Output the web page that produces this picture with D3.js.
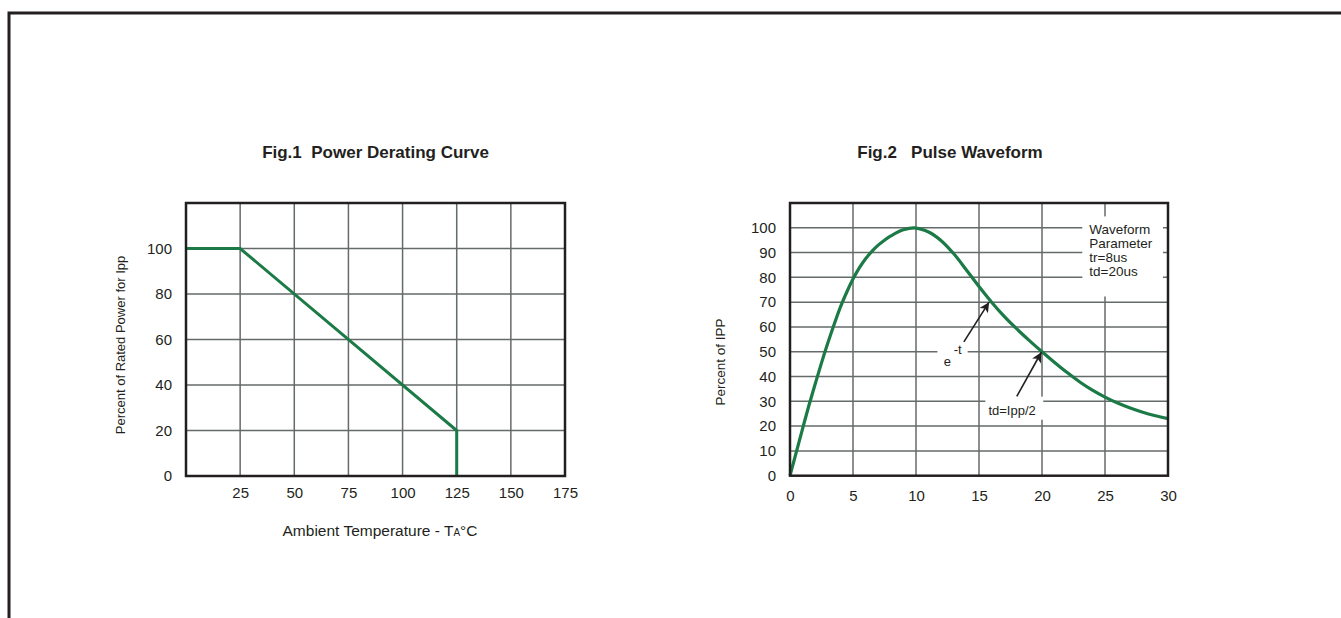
<!DOCTYPE html>
<html>
<head>
<meta charset="utf-8">
<script src="https://cdn.jsdelivr.net/npm/d3@7"></script>
<style>
  body { margin: 0; background: #fff; }
  svg { display: block; }
  text { font-family: "Liberation Sans", Arial, sans-serif; fill: #231f20; }
</style>
</head>
<body>
<div id="chart"></div>
<script>
// Fig.1 data: power derating
var derateTemp = [0, 25, 125, 125]
var deratePower = [100, 100, 20, 0]
var derateXTicks = [25, 50, 75, 100, 125, 150, 175]
var derateYTicks = [0, 20, 40, 60, 80, 100]

// Fig.2 data: pulse waveform
var pulseTime = [0, 0.5, 1, 1.5, 2, 2.5, 3, 3.5, 4, 4.5, 5, 5.5, 6, 6.5, 7, 7.5, 8, 9, 10, 11, 12, 13, 14, 15, 16, 17, 18, 19, 20, 21, 22, 23, 24, 25, 26, 27, 28, 29, 30]
var pulseValue = [0, 9.5, 19, 28.3, 37, 45.5, 53.5, 61, 68, 74, 79.3, 83.8, 87.5, 90.5, 93, 95, 96.7, 99.2, 99.9, 98.3, 94.8, 89.5, 83, 76.3, 70, 64.3, 59.2, 54.5, 50, 45.7, 41.6, 37.8, 34.5, 31.7, 29.3, 27.3, 25.6, 24.2, 23]
var pulseXTicks = [0, 5, 10, 15, 20, 25, 30]
var pulseYTicks = [0, 10, 20, 30, 40, 50, 60, 70, 80, 90, 100]
var waveformLines = ["Waveform", "Parameter", "tr=8us", "td=20us"]

var W = 1341, H = 618
var green = "#1b7a46", gridc = "#656a6a", ink = "#231f20"

var svg = d3.select("#chart").append("svg")
  .attr("width", W).attr("height", H)

svg.append("defs").append("marker")
  .attr("id", "arrow")
  .attr("markerUnits", "userSpaceOnUse")
  .attr("viewBox", "0 0 10 10")
  .attr("refX", 10).attr("refY", 5)
  .attr("markerWidth", 12).attr("markerHeight", 10)
  .attr("orient", "auto")
  .append("path").attr("d", "M0,0 L10,5 L0,10 L2.5,5 Z").attr("fill", ink)

// outer page border (cut off at right and bottom)
svg.append("path")
  .attr("d", "M9," + H + " V13 H" + W)
  .attr("fill", "none").attr("stroke", ink).attr("stroke-width", 3)

function grid(g, x, y, xt, yt) {
  g.append("g").selectAll("line").data(xt).enter().append("line")
    .attr("x1", d => x(d)).attr("x2", d => x(d))
    .attr("y1", y.range()[0]).attr("y2", y.range()[1])
    .attr("stroke", gridc).attr("stroke-width", 1.5)
  g.append("g").selectAll("line").data(yt).enter().append("line")
    .attr("y1", d => y(d)).attr("y2", d => y(d))
    .attr("x1", x.range()[0]).attr("x2", x.range()[1])
    .attr("stroke", gridc).attr("stroke-width", 1.5)
}

function frame(g, x, y) {
  g.append("rect")
    .attr("x", x.range()[0]).attr("y", y.range()[1])
    .attr("width", x.range()[1] - x.range()[0])
    .attr("height", y.range()[0] - y.range()[1])
    .attr("fill", "none").attr("stroke", ink).attr("stroke-width", 2.5)
}

function labels(g, x, y, xt, yt, padX) {
  var ax = g.append("g")
    .attr("transform", "translate(0," + y.range()[0] + ")")
    .call(d3.axisBottom(x).tickValues(xt).tickSize(0).tickPadding(padX))
  var ay = g.append("g")
    .attr("transform", "translate(" + x.range()[0] + ",0)")
    .call(d3.axisLeft(y).tickValues(yt).tickSize(0).tickPadding(14))
  ;[ax, ay].forEach(function(a) {
    a.select(".domain").remove()
    a.selectAll("text")
      .style("font-size", "15px")
      .style("font-family", '"Liberation Sans", Arial, sans-serif')
      .attr("fill", ink)
  })
}

// ---------- Fig.1 ----------
var g1 = svg.append("g")
var x1 = d3.scaleLinear().domain([0, 175]).range([186, 565])
var y1 = d3.scaleLinear().domain([0, 120]).range([476, 203])

grid(g1, x1, y1, derateXTicks.filter(d => d < 175), derateYTicks.filter(d => d > 0))

g1.append("path")
  .datum(derateTemp.map((t, i) => [t, deratePower[i]]))
  .attr("d", d3.line().x(d => x1(d[0])).y(d => y1(d[1])))
  .attr("fill", "none").attr("stroke", green).attr("stroke-width", 3)
  .attr("stroke-linejoin", "miter")

frame(g1, x1, y1)
labels(g1, x1, y1, derateXTicks, derateYTicks, 11.5)

g1.append("text")
  .attr("x", (x1.range()[0] + x1.range()[1]) / 2).attr("y", 158)
  .attr("text-anchor", "middle")
  .style("font-size", "17px").style("font-weight", "bold")
  .text("Fig.1\u00a0\u00a0Power Derating Curve")

var xl = g1.append("text")
  .attr("x", 380).attr("y", 536)
  .attr("text-anchor", "middle")
  .style("font-size", "15.5px")
xl.append("tspan").text("Ambient Temperature - T")
xl.append("tspan").style("font-size", "10px").text("A")
xl.append("tspan").text("°C")

g1.append("text")
  .attr("transform", "translate(124.5,345) rotate(-90)")
  .attr("text-anchor", "middle")
  .style("font-size", "13px")
  .text("Percent of Rated Power for Ipp")

// ---------- Fig.2 ----------
var g2 = svg.append("g")
var x2 = d3.scaleLinear().domain([0, 30]).range([790, 1168])
var y2 = d3.scaleLinear().domain([0, 110]).range([475.7, 203])

grid(g2, x2, y2, pulseXTicks.filter(d => d > 0 && d < 30), pulseYTicks.filter(d => d > 0))

// white label boxes over the grid
function box(t0, t1, v0, v1) {
  g2.append("rect")
    .attr("x", x2(t0)).attr("y", y2(v1))
    .attr("width", x2(t1) - x2(t0)).attr("height", y2(v0) - y2(v1))
    .attr("fill", "#fff")
}
box(23.2, 29.6, 72.3, 104.6)
box(11.7, 14.1, 46, 53)
box(15.5, 20.1, 22.6, 31.9)

g2.append("path")
  .datum(pulseTime.map((t, i) => [t, pulseValue[i]]))
  .attr("d", d3.line().curve(d3.curveCatmullRom.alpha(0.5)).x(d => x2(d[0])).y(d => y2(d[1])))
  .attr("fill", "none").attr("stroke", green).attr("stroke-width", 3.2)

frame(g2, x2, y2)
labels(g2, x2, y2, pulseXTicks, pulseYTicks, 14.8)

g2.append("text")
  .attr("x", 950).attr("y", 158)
  .attr("text-anchor", "middle")
  .style("font-size", "17px").style("font-weight", "bold")
  .text("Fig.2\u00a0\u00a0\u00a0Pulse Waveform")

g2.append("text")
  .attr("transform", "translate(725,362) rotate(-90)")
  .attr("text-anchor", "middle")
  .style("font-size", "13.5px")
  .text("Percent of IPP")

// waveform parameter note
g2.append("g").selectAll("text").data(waveformLines).enter().append("text")
  .attr("x", x2(23.75)).attr("y", (d, i) => y2(97.6) + i * 14)
  .style("font-size", "13.5px")
  .text(d => d)

// e^-t label and arrow
g2.append("text").attr("x", x2(12.2)).attr("y", y2(44.1))
  .style("font-size", "13px").text("e")
g2.append("text").attr("x", x2(12.2) + 10).attr("y", y2(44.1) - 12)
  .style("font-size", "13px").text("-t")
g2.append("line")
  .attr("x1", x2(13.8)).attr("y1", y2(54))
  .attr("x2", x2(15.8)).attr("y2", y2(70))
  .attr("stroke", ink).attr("stroke-width", 1.6)
  .attr("marker-end", "url(#arrow)")

// td label and arrow
g2.append("text").attr("x", x2(15.75)).attr("y", y2(24.6))
  .style("font-size", "13px").text("td=Ipp/2")
g2.append("line")
  .attr("x1", x2(18.0)).attr("y1", y2(32))
  .attr("x2", x2(19.95)).attr("y2", y2(49.8))
  .attr("stroke", ink).attr("stroke-width", 1.6)
  .attr("marker-end", "url(#arrow)")
</script>
</body>
</html>
